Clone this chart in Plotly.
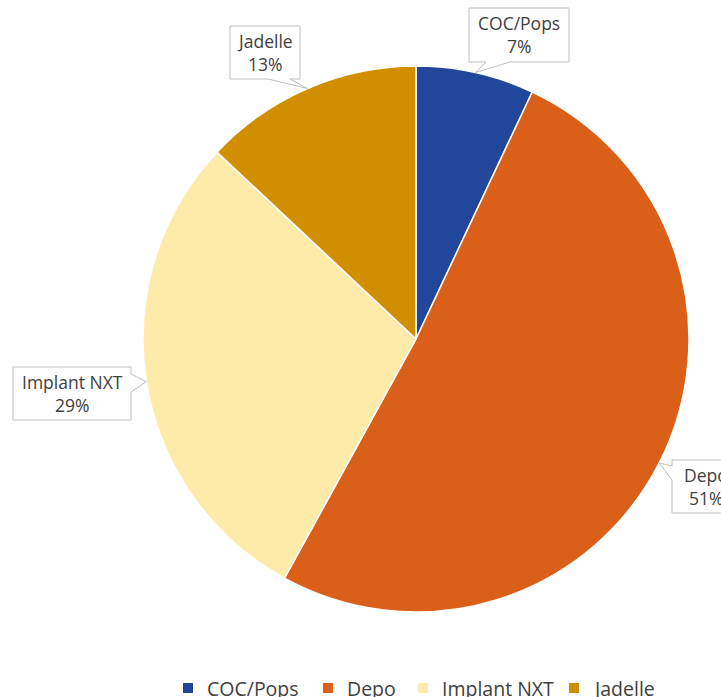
import math
import plotly.graph_objects as go

# ---- data ----
labels = ["COC/Pops", "Depo", "Implant NXT", "Jadelle"]
values = [7, 51, 29, 13]
colors = ["#21469a", "#da5f19", "#feeaa9", "#d18f00"]

W, H = 721, 697
CX, CY, R = 416, 339, 273  # pie centre / radius in pixels (layout)

# callout boxes (pixel layout): x0, y0, x1, y1, side of pointer, base a, base b
boxes = {
    "COC/Pops":    (469, 8, 569, 62, "bottom", 486, 510),
    "Depo":        (672, 460, 740, 513, "left", 466, 480),
    "Implant NXT": (13, 367, 131, 420, "right", 374, 392),
    "Jadelle":     (230, 26, 300, 79, "bottom", 268, 290),
}
# legend layout (pixel): square centre x per item, text start offset, row y
legend_x = [188, 328, 423, 574]
LEG_Y = 688
LEG_SQ = 10
LEG_TXT_DX = 17

def px(x):
    return x / W

def py(y):
    return 1 - y / H

fig = go.Figure()
fig.add_trace(go.Pie(
    labels=labels, values=values, sort=False, direction="clockwise", rotation=0,
    marker=dict(colors=colors, line=dict(color="white", width=1.5)),
    textinfo="none", hoverinfo="label+percent", showlegend=False,
    domain=dict(x=[px(CX - R), px(CX + R)], y=[py(CY + R), py(CY - R)]),
))

total = sum(values)
shapes = []
annotations = []
cum = 0
for lab, v in zip(labels, values):
    mid = (cum + v / 2) / total * 2 * math.pi
    cum += v
    tx = CX + R * math.sin(mid)
    ty = CY - R * math.cos(mid)
    x0, y0, x1, y1, side, a, b = boxes[lab]
    if side == "bottom":
        pts = [(x0, y0), (x1, y0), (x1, y1), (b, y1), (tx, ty), (a, y1), (x0, y1)]
    elif side == "right":
        pts = [(x0, y0), (x1, y0), (x1, a), (tx, ty), (x1, b), (x1, y1), (x0, y1)]
    else:  # left
        pts = [(x0, y0), (x1, y0), (x1, y1), (x0, y1), (x0, b), (tx, ty), (x0, a)]
    path = "M" + " L".join(f"{px(x):.5f},{py(y):.5f}" for x, y in pts) + " Z"
    shapes.append(dict(type="path", xref="paper", yref="paper", path=path,
                       fillcolor="white", line=dict(color="#bfbfbf", width=1),
                       layer="above"))
    cxb = (x0 + x1) / 2
    cyb = (y0 + y1) / 2
    pct = f"{round(v / total * 100)}%"
    for txt, dy in ((lab, -11.5), (pct, 11.5)):
        annotations.append(dict(x=px(cxb), y=py(cyb + dy), xref="paper", yref="paper",
                                text=txt, showarrow=False, xanchor="center", yanchor="middle",
                                font=dict(family="Open Sans", size=17.5, color="#404040")))

# custom legend row
for lab, col, lx in zip(labels, colors, legend_x):
    shapes.append(dict(type="rect", xref="paper", yref="paper",
                       x0=px(lx - LEG_SQ / 2), x1=px(lx + LEG_SQ / 2),
                       y0=py(LEG_Y + LEG_SQ / 2), y1=py(LEG_Y - LEG_SQ / 2),
                       fillcolor=col, line=dict(width=0), layer="above"))
    annotations.append(dict(x=px(lx + LEG_TXT_DX), y=py(LEG_Y), xref="paper", yref="paper",
                            text=lab, showarrow=False, xanchor="left", yanchor="middle",
                            font=dict(family="Open Sans", size=19.5, color="#404040")))

fig.update_layout(
    width=W, height=H,
    margin=dict(l=0, r=0, t=0, b=0),
    paper_bgcolor="white", plot_bgcolor="white",
    shapes=shapes, annotations=annotations,
    showlegend=False,
)

fig.write_html("out.html")
